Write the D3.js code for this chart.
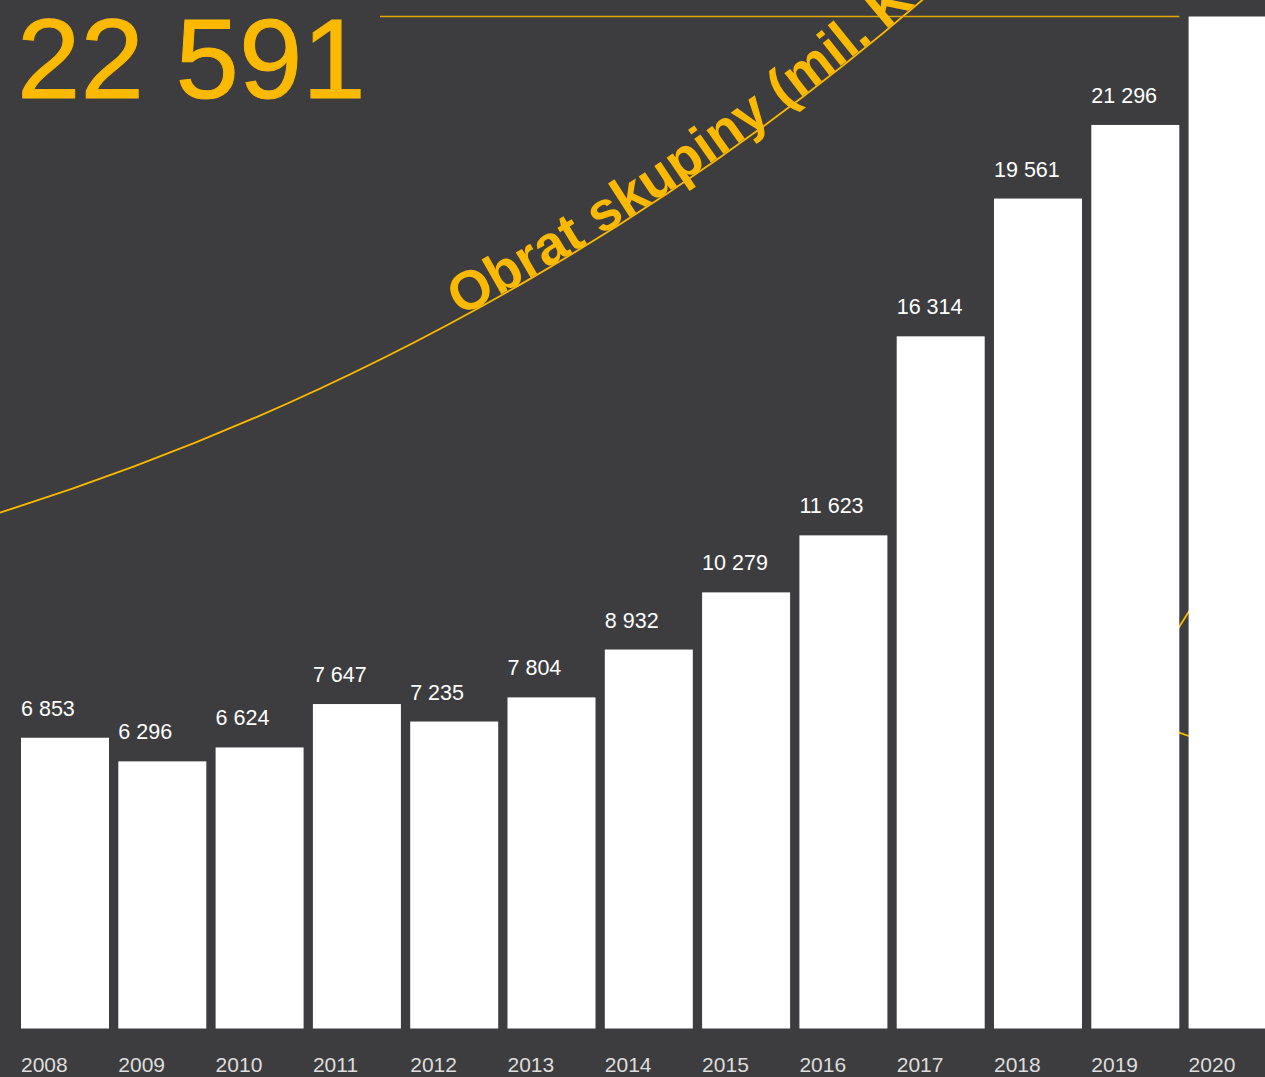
<!DOCTYPE html>
<html>
<head>
<meta charset="utf-8">
<script src="https://cdn.jsdelivr.net/npm/d3@7"></script>
<style>
  html, body { margin: 0; padding: 0; background: #3d3d3f; overflow: hidden; }
  svg { display: block; }
</style>
</head>
<body>
<svg id="chart" width="1265" height="1077"></svg>
<script>
// ---- data ----
const years = ["2008","2009","2010","2011","2012","2013","2014","2015","2016","2017","2018","2019","2020"];
const revenue = [6853, 6296, 6624, 7647, 7235, 7804, 8932, 10279, 11623, 16314, 19561, 21296, 22591];
const highlightYear = "2020";
const headlineValue = 22591;
const curveLabel = "Obrat skupiny (mil. Kč)";

// ---- layout ----
const W = 1265, H = 1077;
const baseline = 1028.5;
const ruleY = 16.5;
const yellow = "#fbb900";
const bg = "#3d3d3f";

const fmt = d3.formatLocale({ decimal: ",", thousands: "\u00a0", grouping: [3], currency: ["", " Kč"] }).format(",d");

const svg = d3.select("#chart");
svg.append("rect").attr("width", W).attr("height", H).attr("fill", bg);

const x = d3.scaleBand().domain(years).range([21, 1276.6]).paddingInner(0.0956).paddingOuter(0);
const y = d3.scaleLinear().domain([0, 22591]).range([baseline, 70]);

const data = years.map((yr, i) => ({ year: yr, value: revenue[i] }));

// ---- decorative curve (big arc with label) ----
const cx = -785, cy = -1986, R = 2619;
const angAtX = xv => Math.acos((xv - cx) / R);
const a0 = angAtX(-20);
const a1 = Math.asin((-80 - cy) / R);
const arcPath = d3.path();
arcPath.arc(cx, cy, R, a0, a1, true);

svg.append("path")
  .attr("id", "trendArc")
  .attr("d", arcPath.toString())
  .attr("fill", "none")
  .attr("stroke", yellow)
  .attr("stroke-width", 1.8);

// hidden loop behind the last bars (visible only in the gap)
const loop = d3.path();
loop.moveTo(1200, 594);
loop.lineTo(1179.3, 626.7);
loop.bezierCurveTo(1150, 673, 1130, 720, 1179.3, 732.7);
loop.lineTo(1200, 740);
svg.append("path")
  .attr("d", loop.toString())
  .attr("fill", "none")
  .attr("stroke", yellow)
  .attr("stroke-width", 1.8);

// headline rule
svg.append("line")
  .attr("x1", 380)
  .attr("x2", x("2019") + x.bandwidth())
  .attr("y1", ruleY).attr("y2", ruleY)
  .attr("stroke", "#e0a800")
  .attr("stroke-width", 1.6);

// label on arc
svg.append("text")
  .attr("font-family", "'Liberation Sans', Arial, Helvetica, sans-serif")
  .attr("font-weight", "bold")
  .attr("font-size", 55)
  .attr("fill", yellow)
  .attr("dy", -1)
  .append("textPath")
  .attr("href", "#trendArc")
  .attr("startOffset", R * (a0 - angAtX(461)))
  .text(curveLabel);

// ---- bars ----
svg.append("g").selectAll("rect")
  .data(data)
  .join("rect")
  .attr("x", d => x(d.year))
  .attr("width", x.bandwidth())
  .attr("y", d => d.year === highlightYear ? ruleY : y(d.value))
  .attr("height", d => baseline - (d.year === highlightYear ? ruleY : y(d.value)))
  .attr("fill", "#ffffff");

// ---- value labels ----
svg.append("g").selectAll("text")
  .data(data.filter(d => d.year !== highlightYear))
  .join("text")
  .attr("x", d => x(d.year))
  .attr("y", d => y(d.value) - 22)
  .attr("font-family", "'Liberation Sans', Arial, Helvetica, sans-serif")
  .attr("font-size", 21.5)
  .attr("fill", "#ffffff")
  .text(d => fmt(d.value));

// ---- year axis ----
const xAxis = d3.axisBottom(x).tickSize(0).tickPadding(0);
const axisG = svg.append("g")
  .attr("transform", `translate(0, ${baseline})`)
  .call(xAxis);
axisG.select(".domain").remove();
axisG.selectAll(".tick text")
  .attr("x", -x.bandwidth() / 2)
  .attr("y", 43.5)
  .attr("dy", 0)
  .attr("text-anchor", "start")
  .attr("font-family", "'Liberation Sans', Arial, Helvetica, sans-serif")
  .attr("font-size", 21)
  .attr("fill", "#dedede");

// ---- headline number ----
svg.append("text")
  .attr("x", 17)
  .attr("y", 98)
  .attr("font-family", "'Liberation Sans', Arial, Helvetica, sans-serif")
  .attr("font-size", 114)
  .attr("fill", yellow)
  .attr("stroke", yellow)
  .attr("stroke-width", 1)
  .text(fmt(headlineValue));
</script>
</body>
</html>
